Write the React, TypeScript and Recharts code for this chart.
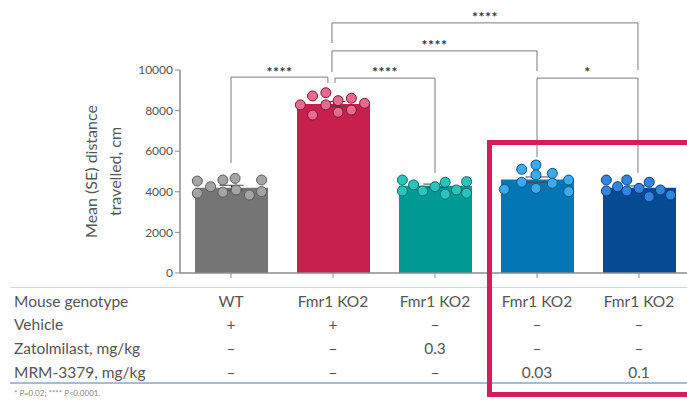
import React from 'react';
import {
  ComposedChart,
  Bar,
  Cell,
  ErrorBar,
  Scatter,
  XAxis,
  YAxis,
  ReferenceLine,
  ReferenceDot,
} from 'recharts';

// groups along the x axis
const groups = ['WT', 'KO2 vehicle', 'KO2 zatolmilast 0.3', 'KO2 MRM-3379 0.03', 'KO2 MRM-3379 0.1'];
const means = [4200, 8330, 4300, 4600, 4200];
const errors = [120, 120, 80, 130, 90];

const barColors = ['#757575', '#c8204d', '#009a94', '#0376b6', '#074a94'];
const dotFills = ['#a4a4a4', '#e86a91', '#2ac4bd', '#3aabef', '#2f86df'];
const dotStrokes = ['#5c5c5c', '#7e1533', '#0b6f6b', '#0b5787', '#0a3c7c'];

// individual animals: [offset from bar centre (in bar slots), distance]
const wtDots = [
  [-0.33, 4530], [-0.33, 3930], [-0.2, 4250], [-0.08, 4580], [-0.08, 3980],
  [0.04, 4660], [0.05, 4090], [0.18, 3840], [0.3, 4580], [0.3, 4010],
];
const vehDots = [
  [-0.32, 8280], [-0.2, 8720], [-0.2, 7780], [-0.07, 8880], [-0.07, 8280],
  [0.05, 8490], [0.05, 7920], [0.18, 8610], [0.18, 8030], [0.31, 8360],
];
const zatDots = [
  [-0.32, 4580], [-0.32, 4040], [-0.21, 4340], [-0.12, 4040], [0, 4250],
  [0.1, 4470], [0.1, 3880], [0.21, 4090], [0.31, 4500], [0.31, 3930],
];
const mrmLowDots = [
  [-0.32, 4120], [-0.15, 5110], [-0.15, 4470], [-0.01, 5320], [-0.01, 4830],
  [-0.01, 4170], [0.15, 4910], [0.15, 4420], [0.31, 4580], [0.31, 4010],
];
const mrmHighDots = [
  [-0.32, 4580], [-0.32, 4040], [-0.21, 4250], [-0.12, 4580], [-0.12, 4040],
  [0, 4170], [0.1, 4470], [0.1, 3760], [0.21, 4090], [0.31, 3840],
];
const dotGroups = [wtDots, vehDots, zatDots, mrmLowDots, mrmHighDots];

// significance brackets: ends (slot index), bar height, leg ends, stars
const brackets = [
  { x1: 0, x2: 0.95, y: 9650, y1: 5420, y2: 9360, stars: '****', sy: 10050 },
  { x1: 1.02, x2: 2, y: 9600, y1: 9360, y2: 4930, stars: '****', sy: 10050 },
  { x1: 0.99, x2: 3, y: 10940, y1: 9900, y2: 9950, stars: '****', sy: 11380 },
  { x1: 0.99, x2: 3.99, y: 12320, y1: 11330, y2: 10000, stars: '****', sy: 12760 },
  { x1: 3, x2: 3.99, y: 9600, y1: 5710, y2: 4930, stars: '*', sy: 10050 },
];

const yTicks = [0, 2000, 4000, 6000, 8000, 10000];

// treatment table under the chart
const rowLabels = ['Mouse genotype', 'Vehicle', 'Zatolmilast, mg/kg', 'MRM-3379, mg/kg'];
const genotypeRow = ['WT', 'Fmr1 KO2', 'Fmr1 KO2', 'Fmr1 KO2', 'Fmr1 KO2'];
const vehicleRow = ['+', '+', '–', '–', '–'];
const zatolmilastRow = ['–', '–', '0.3', '–', '–'];
const mrmRow = ['–', '–', '–', '0.03', '0.1'];
const tableRows = [genotypeRow, vehicleRow, zatolmilastRow, mrmRow];

const chartData = groups.map((name, i) => ({ name, mean: means[i], se: errors[i] }));

const PLOT_LEFT = 180;
const SLOT = 102;
const rowY = [301, 324, 348, 372];
const FONT = 'Lato, "Open Sans", sans-serif';
const lineColor = '#7a7a7a';

const YLabel = (props: any) => {
  const vb = props.viewBox || { x: 0, y: 70, width: 180, height: 203 };
  const cy = vb.y + vb.height / 2;
  return (
    <g fill="#555" fontSize={16} fontFamily={FONT}>
      <text x={97} y={cy} textAnchor="middle" transform={`rotate(-90 97 ${cy})`}>
        Mean (SE) distance
      </text>
      <text x={121} y={cy} textAnchor="middle" transform={`rotate(-90 121 ${cy})`}>
        travelled, cm
      </text>
    </g>
  );
};

const App: React.FC = () => {
  const bracketLines = brackets.flatMap((b, i) => [
    <ReferenceLine
      key={`h${i}`}
      xAxisId="num"
      segment={[{ x: b.x1, y: b.y }, { x: b.x2, y: b.y }]}
      stroke={lineColor}
      strokeWidth={1}
      ifOverflow="visible"
    />,
    <ReferenceLine
      key={`l${i}`}
      xAxisId="num"
      segment={[{ x: b.x1, y: b.y }, { x: b.x1, y: b.y1 }]}
      stroke={lineColor}
      strokeWidth={1}
      ifOverflow="visible"
    />,
    <ReferenceLine
      key={`r${i}`}
      xAxisId="num"
      segment={[{ x: b.x2, y: b.y }, { x: b.x2, y: b.y2 }]}
      stroke={lineColor}
      strokeWidth={1}
      ifOverflow="visible"
    />,
    <ReferenceDot
      key={`s${i}`}
      xAxisId="num"
      x={(b.x1 + b.x2) / 2}
      y={b.sy}
      r={0}
      ifOverflow="visible"
      shape={(p: any) => (
        <text
          x={p.cx}
          y={p.cy + 8}
          textAnchor="middle"
          fontSize={14}
          fontWeight="bold"
          fontFamily={FONT}
          fill="#333"
          letterSpacing={0.5}
        >
          {b.stars}
        </text>
      )}
    />,
  ]);

  return (
    <div
      style={{
        position: 'absolute',
        left: 0,
        top: 0,
        width: 687,
        height: 402,
        overflow: 'hidden',
        background: '#fff',
        fontFamily: FONT,
      }}
    >
      <div style={{ position: 'absolute', left: 0, top: 0 }}>
        <ComposedChart
          width={700}
          height={285}
          data={chartData}
          margin={{ top: 70, right: 10, bottom: 0, left: 0 }}
          barSize={73}
        >
          <XAxis
            dataKey="name"
            height={12}
            tickFormatter={() => ''}
            tickSize={5}
            axisLine={{ stroke: '#8c8c8c', strokeWidth: 1.5 }}
            tickLine={{ stroke: '#8c8c8c' }}
          />
          <XAxis xAxisId="num" type="number" dataKey="x" domain={[-0.5, 4.5]} hide allowDataOverflow />
          <YAxis
            width={180}
            domain={[0, 10000]}
            ticks={yTicks}
            interval={0}
            tickSize={5}
            tick={{ fontSize: 12, fill: '#555', fontFamily: FONT }}
            axisLine={{ stroke: '#8c8c8c', strokeWidth: 1.5 }}
            tickLine={{ stroke: '#8c8c8c' }}
            label={<YLabel />}
          />
          <Bar dataKey="mean" isAnimationActive={false}>
            {chartData.map((d, i) => (
              <Cell key={d.name} fill={barColors[i]} />
            ))}
            <ErrorBar dataKey="se" width={12} stroke="#444" strokeWidth={1} />
          </Bar>
          {dotGroups.map((dots, g) => (
            <Scatter
              key={g}
              xAxisId="num"
              dataKey="y"
              data={dots.map(([off, v]) => ({ x: g + off, y: v }))}
              isAnimationActive={false}
              shape={(p: any) => (
                <circle cx={p.cx} cy={p.cy} r={5} fill={dotFills[g]} stroke={dotStrokes[g]} strokeWidth={1} />
              )}
            />
          ))}
          {bracketLines}
        </ComposedChart>
      </div>

      {/* table rules */}
      <div style={{ position: 'absolute', left: 10, top: 287, width: 700, height: 1, background: '#c9d8e8' }} />
      <div style={{ position: 'absolute', left: 10, top: 382, width: 700, height: 2, background: '#a3bdd7' }} />

      {rowLabels.map((label, r) => (
        <div
          key={label}
          style={{
            position: 'absolute',
            left: 14,
            top: rowY[r] - 10,
            lineHeight: '20px',
            fontSize: 15.5,
            color: '#555',
            whiteSpace: 'nowrap',
          }}
        >
          {label}
        </div>
      ))}
      {tableRows.map((row, r) =>
        row.map((cell, c) => (
          <div
            key={`${r}-${c}`}
            style={{
              position: 'absolute',
              left: PLOT_LEFT + (c + 0.5) * SLOT - 50,
              width: 100,
              top: rowY[r] - 10,
              lineHeight: '20px',
              fontSize: 15.5,
              color: '#555',
              textAlign: 'center',
              whiteSpace: 'nowrap',
            }}
          >
            {cell}
          </div>
        ))
      )}

      <div
        style={{
          position: 'absolute',
          left: 14,
          top: 388,
          fontSize: 8,
          lineHeight: '10px',
          color: '#888',
          whiteSpace: 'nowrap',
        }}
      >
        * <i>P</i>=0.02; **** <i>P</i>&lt;0.0001.
      </div>

      {/* highlight box */}
      <div
        style={{
          position: 'absolute',
          left: 487,
          top: 140,
          width: 230,
          height: 257,
          border: '5px solid #d81c5a',
          boxSizing: 'border-box',
        }}
      />
    </div>
  );
};

export default App;
